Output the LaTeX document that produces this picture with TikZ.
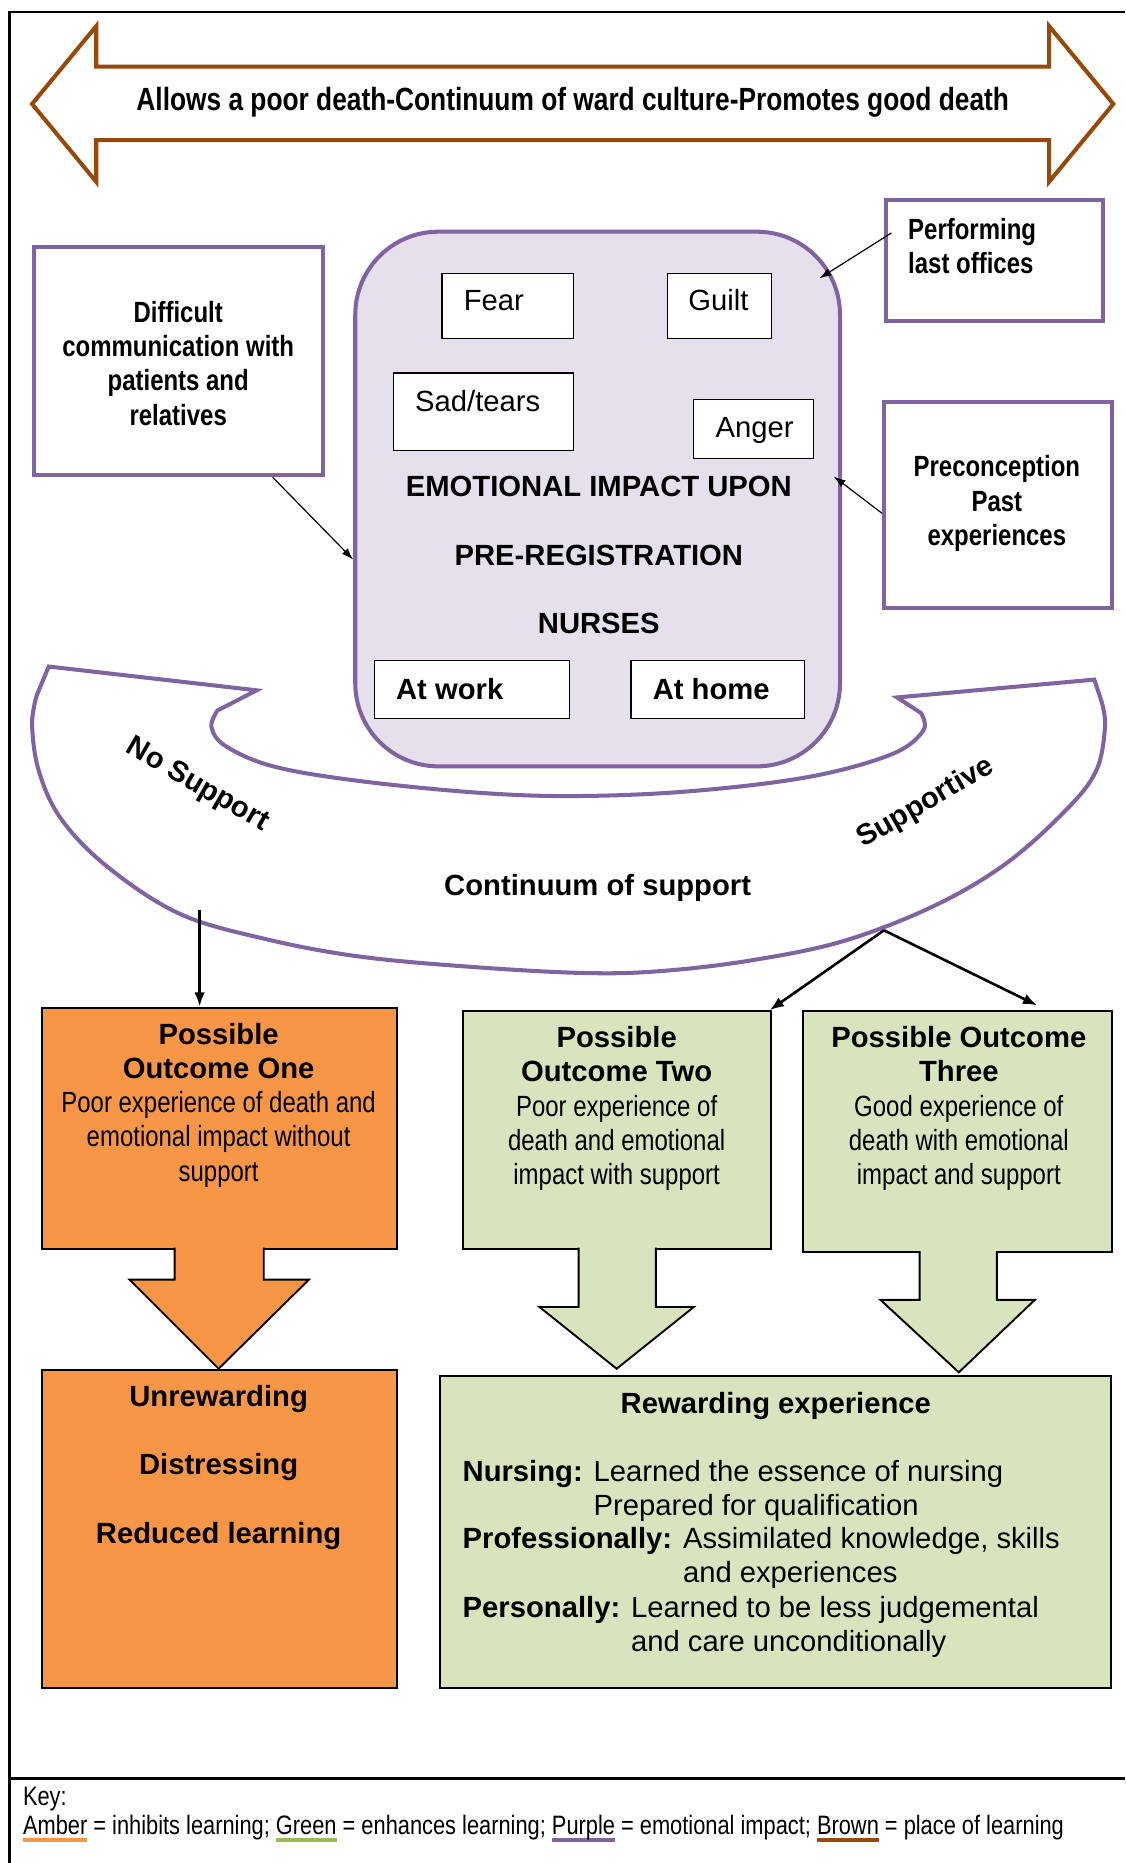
\documentclass[tikz,border=0pt]{standalone}
\usepackage{fontspec}
\setmainfont{Liberation Sans}
\newfontfamily\narrowfont[FakeStretch=0.82]{Liberation Sans}
\usepackage{xcolor}
\usepackage{tikz}
\usetikzlibrary{fit,calc,arrows.meta}

\definecolor{emopurple}{HTML}{8064A2}
\definecolor{emofill}{HTML}{E5E0EC}
\definecolor{learnbrown}{HTML}{984807}
\definecolor{amber}{HTML}{F79646}
\definecolor{lightgreen}{HTML}{D7E4BD}
\definecolor{keygreen}{HTML}{9BBB59}

\newcommand{\txtsize}{\fontsize{12.3}{14.4}\selectfont}
\newsavebox{\keybox}
\newcommand{\keyul}[2]{\sbox{\keybox}{#2}\rlap{\color{#1}\rule[-3.2pt]{\wd\keybox}{1.7pt}}\usebox{\keybox}}

\tikzset{
  frameline/.style={line width=1pt},
  purplebox/.style={draw=emopurple, line width=1.7pt, fill=white, inner sep=0pt},
  emobox/.style={draw=emopurple, line width=1.7pt, fill=emofill, rounded corners=35pt, inner sep=0pt},
  feelbox/.style={draw=black, line width=0.5pt, fill=white, inner sep=0pt},
  amberbox/.style={draw=black, line width=0.8pt, fill=amber, inner sep=0pt},
  greenbox/.style={draw=black, line width=0.8pt, fill=lightgreen, inner sep=0pt},
  txt/.style={inner sep=0pt, font=\txtsize},
  boldtxt/.style={inner sep=0pt, font=\txtsize\bfseries},
  narrowbold/.style={inner sep=0pt, font=\txtsize\narrowfont\bfseries, align=center},
  link/.style={-{Latex[length=5pt,width=3.4pt]}, line width=0.5pt},
  flow/.style={-{Latex[length=6pt,width=4.5pt]}, line width=1.1pt},
}

\begin{document}
\begin{tikzpicture}[x=0.5pt, y=-0.5pt]
  \useasboundingbox (0,0) rectangle (947,1568);
  % frame and key separator
  \draw[frameline] (947,10) -- (8,10) -- (8,1568);
  \draw[line width=1.4pt] (8,1497) -- (947,1497);

  % ward culture arrow
  \draw[line width=1.7pt, draw=learnbrown, fill=white] (27,87.5) -- (81,22) -- (81,56) -- (883,56) -- (883,22) -- (937,87.5) -- (883,153) -- (883,118) -- (81,118) -- (81,153) -- cycle;
  \node[inner sep=0pt, font=\fontsize{13.5}{16}\narrowfont\bfseries, anchor=base] (culture) at (482,92.6) {Allows a poor death-Continuum of ward culture-Promotes good death};

  % continuum of support
  \draw[line width=1.7pt, draw=emopurple, fill=white] (41,561) -- (216,581)
    -- plot[smooth, tension=0.6] coordinates {(183,598) (178,612) (190,628) (230,645) (300,657) (400,667) (483,670) (580,666) (680,654) (750,635) (777,615) (775,600)}
    -- (755,587) -- (921,572)
    -- plot[smooth, tension=0.6] coordinates {(927,590) (930,612) (922,650) (894,685) (845,728) (785,763) (710,792) (634,808) (560,817) (495,819) (400,814) (302,805) (222,790) (151,769) (91,730) (52,690) (33,650) (27,610) (31,585)}
    -- cycle;
  \node[boldtxt, rotate=-30] (nosup) at (166,661) {No Support};
  \node[boldtxt, rotate=30] (sup) at (779,676) {Supportive};
  \node[boldtxt, anchor=base] (contin) at (503,753.4) {Continuum of support};

  % emotional impact
  \node[emobox, fit={(299,195) (707,645)}] (emo) {};
  \node[feelbox, fit={(372,230) (483,285)}] (fear) {};
  \node[txt, anchor=base west] (feartxt) at (390,261) {Fear};
  \node[feelbox, fit={(562,230) (649,285)}] (guilt) {};
  \node[txt, anchor=base west] (guilttxt) at (579,261) {Guilt};
  \node[feelbox, fit={(331,314) (483,379)}] (sad) {};
  \node[txt, anchor=base west] (sadtxt) at (349,346) {Sad/tears};
  \node[feelbox, fit={(584,336) (685,386)}] (anger) {};
  \node[txt, anchor=base west] (angertxt) at (602,368) {Anger};
  \node[boldtxt, anchor=base] (emo1) at (504,418) {EMOTIONAL IMPACT UPON};
  \node[boldtxt, anchor=base] (emo2) at (504,475.6) {PRE-REGISTRATION};
  \node[boldtxt, anchor=base] (emo3) at (504,533) {NURSES};
  \node[feelbox, fit={(315,556) (479,605)}] (work) {};
  \node[boldtxt, anchor=base west] (worktxt) at (333,589) {At work};
  \node[feelbox, fit={(531,556) (677,605)}] (home) {};
  \node[boldtxt, anchor=base west] (hometxt) at (549,589) {At home};

  % influences
  \node[purplebox, fit={(29,208) (272,400)}] (diff) {};
  \node[narrowbold, anchor=base] (difftxt) at (150,357.7) {Difficult\\communication with\\patients and\\relatives};
  \node[purplebox, fit={(746,168) (928,270)}] (perf) {};
  \node[narrowbold, align=left, anchor=base west] (perftxt) at (764,230) {Performing\\last offices};
  \node[purplebox, fit={(744,338) (936,512)}] (prec) {};
  \node[narrowbold, anchor=base] (prectxt) at (839,459) {Preconception\\Past\\experiences};
  \draw[link] ($(diff.south)+(79,0)$) -- ($(emo.west)+(0,51)$);
  \draw[link] ($(perf.west)+(6,-23)$) -- ($(emo.north east)+(-19,41)$);
  \draw[link] ($(prec.west)+(0,7)$) -- ($(emo.east)+(-7,-19)$);

  % outcomes
  \node[amberbox, fit={(35,848) (334,1051)}] (out1) {};
  \node[boldtxt, align=center, anchor=base] (out1txt) at (184,994) {Possible\\Outcome One\\{\narrowfont\mdseries Poor experience of death and}\\{\narrowfont\mdseries emotional impact without}\\{\narrowfont\mdseries support}};
  \node[greenbox, fit={(390,851) (649,1051)}] (out2) {};
  \node[boldtxt, align=center, anchor=base] (out2txt) at (519,997) {Possible\\Outcome Two\\{\narrowfont\mdseries Poor experience of}\\{\narrowfont\mdseries death and emotional}\\{\narrowfont\mdseries impact with support}};
  \node[greenbox, fit={(676,851) (936,1054)}] (out3) {};
  \node[boldtxt, align=center, anchor=base] (out3txt) at (807,997) {Possible Outcome\\Three\\{\narrowfont\mdseries Good experience of}\\{\narrowfont\mdseries death with emotional}\\{\narrowfont\mdseries impact and support}};

  \coordinate (nosupend) at (168,766);
  \coordinate (supend) at (744,783);
  \draw[flow] (nosupend) -- (nosupend |- out1.north);
  \draw[flow] (supend) -- ($(out2.north east)+(-2,0)$);
  \draw[flow] (supend) -- ($(out3.north)+(67,-4)$);

  % block arrows
  \filldraw[fill=amber, line width=0.8pt] (147,1050) -- (147,1077) -- (109,1077) -- (184,1152) -- (260,1077) -- (222,1077) -- (222,1050);
  \filldraw[fill=lightgreen, line width=0.8pt] (487,1050) -- (487,1100) -- (454,1100) -- (519,1152) -- (584,1100) -- (552,1100) -- (552,1050);
  \filldraw[fill=lightgreen, line width=0.8pt] (774,1053) -- (774,1094) -- (741,1094) -- (807,1155) -- (871,1094) -- (839,1094) -- (839,1053);

  % learning
  \node[amberbox, fit={(35,1153) (334,1421)}] (unrew) {};
  \node[boldtxt, align=center, anchor=base] (unrewtxt) at (184,1299) {Unrewarding\\[14.4pt]Distressing\\[14.4pt]Reduced learning};
  \node[greenbox, fit={(370,1158) (935,1421)}] (rew) {};
  \node[boldtxt, anchor=base] (rewtitle) at (653,1190) {Rewarding experience};
  \node[txt, anchor=base west] (nursing) at (389,1247) {\begin{tabular}[t]{@{}l@{ }l@{}}\textbf{Nursing:} & Learned the essence of nursing\\ & Prepared for qualification\end{tabular}};
  \node[txt, anchor=base west] (prof) at (389,1303) {\begin{tabular}[t]{@{}l@{ }l@{}}\textbf{Professionally:} & Assimilated knowledge, skills\\ & and experiences\end{tabular}};
  \node[txt, anchor=base west] (pers) at (389,1361) {\begin{tabular}[t]{@{}l@{ }l@{}}\textbf{Personally:} & Learned to be less judgemental\\ & and care unconditionally\end{tabular}};

  % key
  \node[inner sep=0pt, font=\fontsize{11.2}{13}\narrowfont, anchor=base west] (keyhead) at (19,1519.6) {Key:};
  \node[inner sep=0pt, font=\fontsize{11.2}{13}\narrowfont, anchor=base west] (keyline) at (19,1544) {\keyul{amber}{Amber} = inhibits learning; \keyul{keygreen}{Green} = enhances learning; \keyul{emopurple}{Purple} = emotional impact; \keyul{learnbrown}{Brown} = place of learning};
\end{tikzpicture}
\end{document}
